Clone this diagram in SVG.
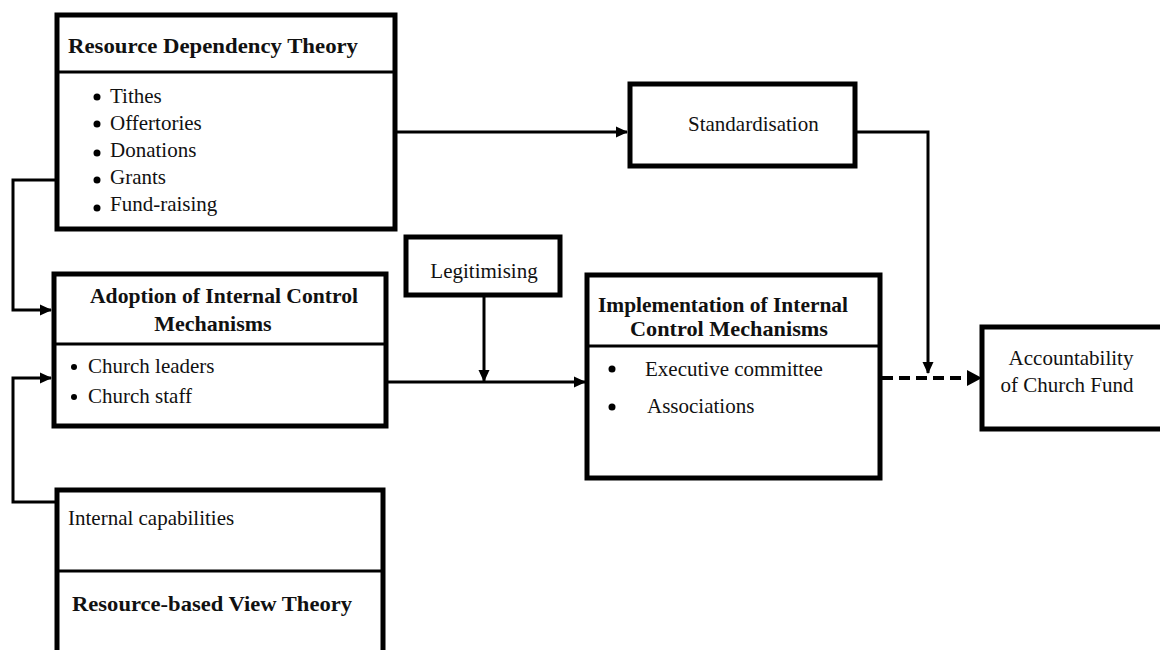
<svg xmlns="http://www.w3.org/2000/svg" width="1160" height="650" viewBox="0 0 1160 650">
<defs>
<marker id="arr" markerWidth="12" markerHeight="12" refX="11" refY="6" orient="auto" markerUnits="userSpaceOnUse">
<path d="M0,0.5 L12,6 L0,11.5 Z" fill="#000"/>
</marker>
</defs>
<style>
.box{fill:#fff;stroke:#000;stroke-width:5}
.div{stroke:#000;stroke-width:3}
.t{font-family:"Liberation Serif","Times New Roman",serif;font-size:21px;fill:#111}
.b{font-family:"Liberation Serif","Times New Roman",serif;font-size:22px;font-weight:bold;fill:#111}
.b2{font-family:"Liberation Serif","Times New Roman",serif;font-size:21px;font-weight:bold;fill:#111}
.c{fill:none;stroke:#000;stroke-width:3}
.dash{fill:none;stroke:#000;stroke-width:4;stroke-dasharray:11 6}
</style>
<rect width="1160" height="650" fill="#fff"/>

<g id="connectors">
<path class="c" d="M55,180 H13 V310 H51" marker-end="url(#arr)"/>
<path class="c" d="M55,502 H13 V378 H51" marker-end="url(#arr)"/>
<path class="c" d="M397,132 H627" marker-end="url(#arr)"/>
<path class="c" d="M857,132 H928 V373" marker-end="url(#arr)"/>
<path class="c" d="M484,296 V381" marker-end="url(#arr)"/>
<path class="c" d="M388,382 H585" marker-end="url(#arr)"/>
<path class="dash" d="M882,378 H968"/>
<path d="M967,370 L982,378 L967,386 Z" fill="#000"/>
</g>

<g id="rdt">
<rect class="box" x="57" y="15" width="338" height="214"/>
<line class="div" x1="57" y1="72" x2="395" y2="72"/>
<text class="b" x="68" y="53" textLength="290" lengthAdjust="spacingAndGlyphs">Resource Dependency Theory</text>
<g class="t">
<circle cx="97" cy="97" r="3.5" fill="#000"/>
<text x="110" y="103">Tithes</text>
<circle cx="97" cy="124" r="3.5" fill="#000"/>
<text x="110" y="130">Offertories</text>
<circle cx="97" cy="153" r="3.5" fill="#000"/>
<text x="110" y="157">Donations</text>
<circle cx="97" cy="180" r="3.5" fill="#000"/>
<text x="110" y="184">Grants</text>
<circle cx="97" cy="208" r="3.5" fill="#000"/>
<text x="110" y="211">Fund-raising</text>
</g>
</g>

<g id="standardisation">
<rect class="box" x="630" y="84" width="225" height="82"/>
<text class="t" x="688" y="131">Standardisation</text>
</g>

<g id="legitimising">
<rect class="box" x="406" y="237" width="154" height="58"/>
<text class="t" x="484" y="278" text-anchor="middle">Legitimising</text>
</g>

<g id="adoption">
<rect class="box" x="54" y="274" width="332" height="152"/>
<line class="div" x1="54" y1="344" x2="386" y2="344"/>
<text class="b" x="90" y="303" textLength="268" lengthAdjust="spacingAndGlyphs">Adoption of Internal Control</text>
<text class="b" x="213" y="331" text-anchor="middle">Mechanisms</text>
<circle cx="74" cy="367" r="3" fill="#000"/>
<text class="t" x="88" y="373">Church leaders</text>
<circle cx="74" cy="397" r="3" fill="#000"/>
<text class="t" x="88" y="403">Church staff</text>
</g>

<g id="implementation">
<rect class="box" x="587" y="275" width="293" height="203"/>
<line class="div" x1="587" y1="346" x2="880" y2="346"/>
<text class="b2" x="598" y="312" textLength="250" lengthAdjust="spacingAndGlyphs">Implementation of Internal</text>
<text class="b2" x="630" y="336" textLength="198" lengthAdjust="spacingAndGlyphs">Control Mechanisms</text>
<circle cx="612" cy="369" r="3.5" fill="#000"/>
<text class="t" x="645" y="376">Executive committee</text>
<circle cx="612" cy="407" r="3.5" fill="#000"/>
<text class="t" x="647" y="413">Associations</text>
</g>

<g id="accountability">
<rect class="box" x="982" y="327" width="190" height="102"/>
<text class="t" x="1071" y="365" text-anchor="middle">Accountability</text>
<text class="t" x="1067" y="392" text-anchor="middle">of Church Fund</text>
</g>

<g id="rbv">
<rect class="box" x="57" y="490" width="326" height="200"/>
<line class="div" x1="57" y1="571" x2="383" y2="571"/>
<text class="t" x="68" y="525">Internal capabilities</text>
<text class="b" x="72" y="611" textLength="280" lengthAdjust="spacingAndGlyphs">Resource-based View Theory</text>
</g>
</svg>
